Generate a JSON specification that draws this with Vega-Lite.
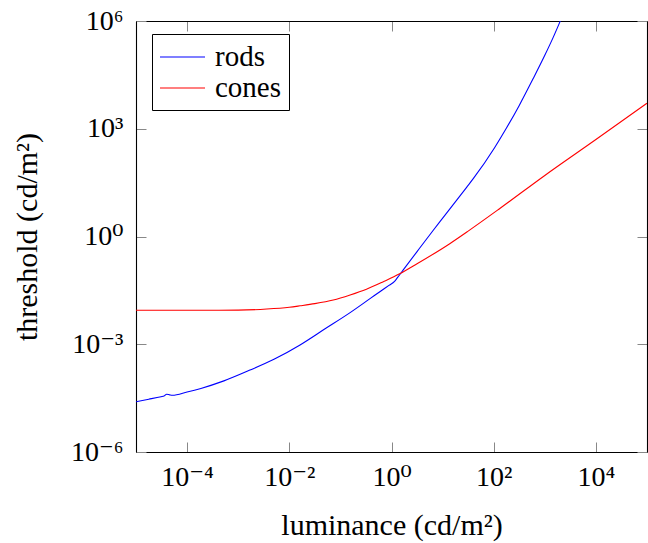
{
  "$schema": "https://vega.github.io/schema/vega-lite/v6.json",
  "width": 511,
  "height": 431,
  "autosize": {"type": "none"},
  "padding": {"left": 136, "top": 21, "right": 1, "bottom": 91},
  "background": "white",
  "config": {
    "font": "'Liberation Serif', 'Times New Roman', 'DejaVu Serif', serif",
    "view": {"stroke": null},
    "axis": {
      "grid": false,
      "domainColor": "black",
      "domainWidth": 1.1,
      "tickColor": "#888888",
      "tickWidth": 1,
      "tickSize": -10,
      "labelFont": "'Liberation Serif', 'Times New Roman', 'DejaVu Serif', serif",
      "labelFontSize": 28,
      "labelColor": "black",
      "titleFont": "'Liberation Serif', 'Times New Roman', 'DejaVu Serif', serif",
      "titleFontSize": 30,
      "titleFontWeight": "normal",
      "titleColor": "black"
    }
  },
  "data": {
    "values": [
      {"receptor": "rods", "luminance": 1e-5, "threshold": 2.51e-5},
      {"receptor": "rods", "luminance": 1.778e-5, "threshold": 2.95e-5},
      {"receptor": "rods", "luminance": 3.09e-5, "threshold": 3.47e-5},
      {"receptor": "rods", "luminance": 3.548e-5, "threshold": 3.63e-5},
      {"receptor": "rods", "luminance": 3.981e-5, "threshold": 4.07e-5},
      {"receptor": "rods", "luminance": 4.571e-5, "threshold": 3.89e-5},
      {"receptor": "rods", "luminance": 5.129e-5, "threshold": 3.8e-5},
      {"receptor": "rods", "luminance": 1e-4, "threshold": 4.68e-5},
      {"receptor": "rods", "luminance": 1.862e-4, "threshold": 5.89e-5},
      {"receptor": "rods", "luminance": 5.248e-4, "threshold": 9.55e-5},
      {"receptor": "rods", "luminance": 1.698e-3, "threshold": 1.905e-4},
      {"receptor": "rods", "luminance": 5.012e-3, "threshold": 3.8e-4},
      {"receptor": "rods", "luminance": 1.622e-2, "threshold": 9.55e-4},
      {"receptor": "rods", "luminance": 5.012e-2, "threshold": 2.69e-3},
      {"receptor": "rods", "luminance": 0.1549, "threshold": 7.59e-3},
      {"receptor": "rods", "luminance": 0.3981, "threshold": 1.95e-2},
      {"receptor": "rods", "luminance": 0.631, "threshold": 3.09e-2},
      {"receptor": "rods", "luminance": 0.891, "threshold": 4.37e-2},
      {"receptor": "rods", "luminance": 1.148, "threshold": 5.62e-2},
      {"receptor": "rods", "luminance": 1.318, "threshold": 7.24e-2},
      {"receptor": "rods", "luminance": 1.698, "threshold": 0.1175},
      {"receptor": "rods", "luminance": 3.162, "threshold": 0.380},
      {"receptor": "rods", "luminance": 6.457, "threshold": 1.445},
      {"receptor": "rods", "luminance": 10.96, "threshold": 3.80},
      {"receptor": "rods", "luminance": 29.51, "threshold": 23.44},
      {"receptor": "rods", "luminance": 39.81, "threshold": 40.74},
      {"receptor": "rods", "luminance": 104.7, "threshold": 302},
      {"receptor": "rods", "luminance": 177.8, "threshold": 1047},
      {"receptor": "rods", "luminance": 316.2, "threshold": 4467},
      {"receptor": "rods", "luminance": 588.8, "threshold": 24547},
      {"receptor": "rods", "luminance": 1000, "threshold": 110917},
      {"receptor": "rods", "luminance": 1445, "threshold": 338844},
      {"receptor": "rods", "luminance": 1995, "threshold": 977237},
      {"receptor": "rods", "luminance": 2239, "threshold": 1445440},
      {"receptor": "cones", "luminance": 1e-5, "threshold": 8.81e-3},
      {"receptor": "cones", "luminance": 1e-4, "threshold": 8.81e-3},
      {"receptor": "cones", "luminance": 1e-3, "threshold": 8.91e-3},
      {"receptor": "cones", "luminance": 3.631e-3, "threshold": 9.55e-3},
      {"receptor": "cones", "luminance": 1e-2, "threshold": 1.072e-2},
      {"receptor": "cones", "luminance": 1.622e-2, "threshold": 1.175e-2},
      {"receptor": "cones", "luminance": 3.162e-2, "threshold": 1.349e-2},
      {"receptor": "cones", "luminance": 7.244e-2, "threshold": 1.698e-2},
      {"receptor": "cones", "luminance": 0.1549, "threshold": 2.344e-2},
      {"receptor": "cones", "luminance": 0.3236, "threshold": 3.39e-2},
      {"receptor": "cones", "luminance": 0.6918, "threshold": 5.5e-2},
      {"receptor": "cones", "luminance": 1.445, "threshold": 9.12e-2},
      {"receptor": "cones", "luminance": 3.162, "threshold": 0.1738},
      {"receptor": "cones", "luminance": 13.8, "threshold": 0.631},
      {"receptor": "cones", "luminance": 31.62, "threshold": 1.413},
      {"receptor": "cones", "luminance": 131.8, "threshold": 6.026},
      {"receptor": "cones", "luminance": 1000, "threshold": 50.12},
      {"receptor": "cones", "luminance": 10000, "threshold": 501.2},
      {"receptor": "cones", "luminance": 100000, "threshold": 5129}
    ]
  },
  "layer": [
    {
      "mark": {"type": "line", "strokeWidth": 1.1, "interpolate": "monotone", "clip": true},
      "encoding": {
        "x": {
          "field": "luminance",
          "type": "quantitative",
          "scale": {"type": "log", "domain": [1e-5, 1e5], "nice": false},
          "axis": {
            "orient": "bottom",
            "values": [1e-4, 1e-2, 1, 100, 10000],
            "labelExpr": "'10' + replace(replace(replace(replace(replace(replace(replace('' + round(log(datum.value)/LN10),'-','⁻'),'0','⁰'),'1','¹'),'2','²'),'3','³'),'4','⁴'),'6','⁶')",
            "labelPadding": 21,
            "labelBaseline": "top",
            "title": "luminance (cd/m²)",
            "titlePadding": 19
          }
        },
        "y": {
          "field": "threshold",
          "type": "quantitative",
          "scale": {"type": "log", "domain": [1e-6, 1e6], "nice": false},
          "axis": {
            "orient": "left",
            "values": [1e-6, 1e-3, 1, 1000, 1000000],
            "labelExpr": "'10' + replace(replace(replace(replace(replace(replace(replace('' + round(log(datum.value)/LN10),'-','⁻'),'0','⁰'),'1','¹'),'2','²'),'3','³'),'4','⁴'),'6','⁶')",
            "labelPadding": 23,
            "title": "threshold (cd/m²)",
            "titlePadding": 28
          }
        },
        "color": {
          "field": "receptor",
          "type": "nominal",
          "scale": {"domain": ["rods", "cones"], "range": ["#0000ff", "#ff0000"]},
          "legend": {
            "orient": "none",
            "legendX": 16,
            "legendY": 13,
            "title": null,
            "symbolType": "M-1,0H2",
            "symbolSize": 900,
            "symbolStrokeWidth": 1.1,
            "symbolFillColor": "transparent",
            "labelFont": "'Liberation Serif', 'Times New Roman', 'DejaVu Serif', serif",
            "labelFontSize": 29,
            "labelColor": "black",
            "labelOffset": 24,
            "strokeColor": "black",
            "fillColor": "white",
            "padding": 7,
            "rowPadding": 0
          }
        }
      }
    },
    {
      "mark": {"type": "line", "opacity": 0},
      "encoding": {
        "x": {
          "field": "luminance",
          "type": "quantitative",
          "scale": {"type": "log", "domain": [1e-5, 1e5], "nice": false},
          "axis": {"orient": "top", "values": [1e-4, 1e-2, 1, 100, 10000], "labels": false, "title": null}
        },
        "y": {
          "field": "threshold",
          "type": "quantitative",
          "scale": {"type": "log", "domain": [1e-6, 1e6], "nice": false},
          "axis": {"orient": "right", "values": [1e-6, 1e-3, 1, 1000, 1000000], "labels": false, "title": null}
        },
        "detail": {"field": "receptor", "type": "nominal"}
      }
    }
  ],
  "resolve": {"axis": {"x": "independent", "y": "independent"}}
}
